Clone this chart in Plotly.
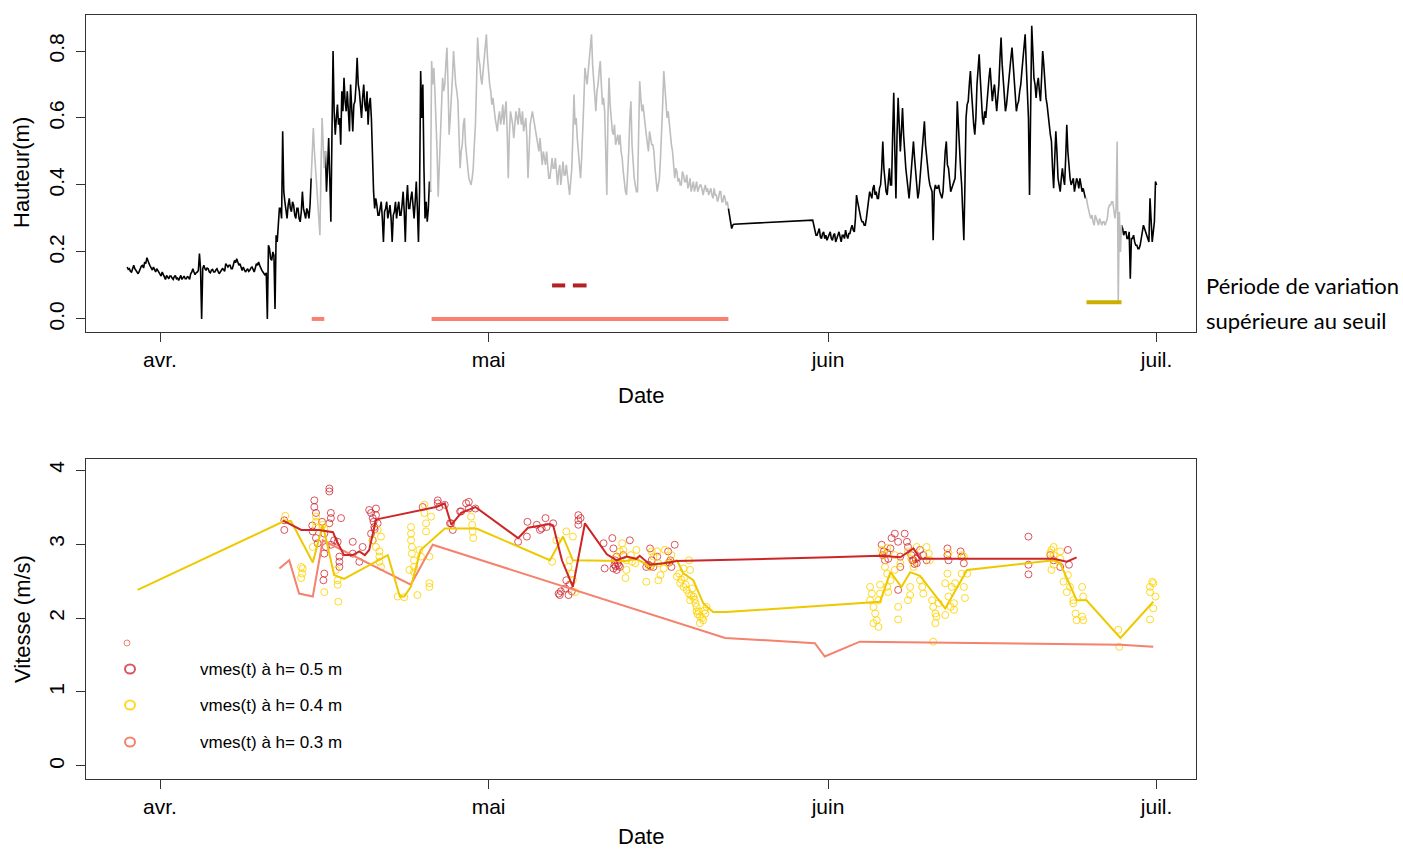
import numpy as np
import pandas as pd
import plotly.graph_objects as go

BASE = pd.Timestamp("2017-04-01")


def to_date(days):
    return BASE + pd.to_timedelta(np.asarray(days, dtype=float), unit="D")


# ---------------- water height (m), sampled every 0.1 day ----------------
SEG_A_START = -3.0   # days from 1 April
SEG_B_START = 59.6
STEP = 0.1

height_a = [
    0.155, 0.148, 0.150, 0.142, 0.140, 0.152, 0.160, 0.150, 0.145, 0.138,
    0.135, 0.142, 0.150, 0.158, 0.160, 0.152, 0.170, 0.165, 0.183, 0.172,
    0.165, 0.158, 0.150, 0.146, 0.155, 0.148, 0.140, 0.150, 0.145, 0.138,
    0.135, 0.128, 0.140, 0.132, 0.125, 0.118, 0.130, 0.124, 0.120, 0.128,
    0.128, 0.122, 0.118, 0.126, 0.130, 0.120, 0.122, 0.115, 0.126, 0.130,
    0.118, 0.124, 0.128, 0.120, 0.120, 0.126, 0.125, 0.118, 0.135, 0.140,
    0.150, 0.140, 0.132, 0.138, 0.140, 0.145, 0.195, 0.150, 0.000, 0.150,
    0.160, 0.150, 0.145, 0.152, 0.150, 0.140, 0.138, 0.146, 0.148, 0.140,
    0.140, 0.146, 0.150, 0.142, 0.135, 0.140, 0.145, 0.150, 0.148, 0.142,
    0.165, 0.158, 0.155, 0.160, 0.160, 0.150, 0.150, 0.162, 0.175, 0.168,
    0.180, 0.170, 0.160, 0.165, 0.150, 0.145, 0.155, 0.148, 0.140, 0.145,
    0.150, 0.142, 0.145, 0.152, 0.155, 0.148, 0.140, 0.152, 0.165, 0.160,
    0.170, 0.160, 0.150, 0.145, 0.140, 0.135, 0.130, 0.138, 0.000, 0.220,
    0.210, 0.180, 0.175, 0.200, 0.190, 0.030, 0.250, 0.230, 0.280, 0.330,
    0.330, 0.300, 0.560, 0.380, 0.350, 0.320, 0.300, 0.340, 0.360, 0.330,
    0.320, 0.350, 0.340, 0.310, 0.300, 0.330, 0.330, 0.300, 0.290, 0.320,
    0.380, 0.330, 0.310, 0.300, 0.330, 0.320, 0.300, 0.340, 0.420, 0.520,
    0.570, 0.500, 0.450, 0.400, 0.350, 0.300, 0.250, 0.450, 0.600, 0.520,
    0.450, 0.500, 0.380, 0.450, 0.540, 0.420, 0.290, 0.550, 0.800, 0.620,
    0.550, 0.600, 0.640, 0.580, 0.600, 0.520, 0.680, 0.620, 0.720, 0.650,
    0.620, 0.680, 0.600, 0.560, 0.700, 0.600, 0.560, 0.640, 0.650, 0.700,
    0.780, 0.700, 0.680, 0.640, 0.600, 0.660, 0.700, 0.640, 0.620, 0.680,
    0.580, 0.640, 0.660, 0.600, 0.450, 0.380, 0.330, 0.360, 0.340, 0.310,
    0.310, 0.340, 0.350, 0.300, 0.230, 0.320, 0.330, 0.350, 0.300, 0.320,
    0.340, 0.300, 0.230, 0.310, 0.320, 0.350, 0.300, 0.330, 0.350, 0.310,
    0.310, 0.340, 0.380, 0.320, 0.230, 0.350, 0.400, 0.330, 0.330, 0.360,
    0.380, 0.340, 0.300, 0.350, 0.410, 0.330, 0.230, 0.380, 0.740, 0.600,
    0.700, 0.450, 0.300, 0.350, 0.290, 0.330, 0.410, 0.380, 0.770, 0.700,
    0.750, 0.680, 0.600, 0.500, 0.365, 0.450, 0.550, 0.650, 0.720, 0.680,
    0.700, 0.760, 0.810, 0.700, 0.550, 0.600, 0.650, 0.720, 0.800, 0.740,
    0.700, 0.680, 0.650, 0.550, 0.450, 0.500, 0.520, 0.580, 0.600, 0.520,
    0.480, 0.450, 0.420, 0.410, 0.400, 0.420, 0.450, 0.520, 0.580, 0.700,
    0.840, 0.780, 0.760, 0.720, 0.700, 0.740, 0.780, 0.820, 0.850, 0.780,
    0.720, 0.700, 0.680, 0.640, 0.660, 0.620, 0.600, 0.580, 0.560, 0.600,
    0.620, 0.580, 0.600, 0.640, 0.580, 0.620, 0.650, 0.560, 0.420, 0.550,
    0.620, 0.600, 0.580, 0.540, 0.570, 0.620, 0.600, 0.580, 0.630, 0.600,
    0.580, 0.620, 0.560, 0.580, 0.600, 0.540, 0.420, 0.500, 0.580, 0.600,
    0.620, 0.600, 0.580, 0.560, 0.540, 0.520, 0.500, 0.540, 0.480, 0.460,
    0.500, 0.480, 0.460, 0.500, 0.450, 0.420, 0.420, 0.460, 0.480, 0.450,
    0.450, 0.480, 0.420, 0.400, 0.440, 0.460, 0.400, 0.440, 0.470, 0.430,
    0.430, 0.460, 0.420, 0.400, 0.370, 0.420, 0.450, 0.550, 0.670, 0.580,
    0.600, 0.540, 0.500, 0.460, 0.420, 0.480, 0.550, 0.650, 0.750, 0.720,
    0.700, 0.740, 0.780, 0.820, 0.850, 0.760, 0.700, 0.660, 0.620, 0.680,
    0.700, 0.740, 0.770, 0.700, 0.640, 0.660, 0.620, 0.500, 0.370, 0.600,
    0.720, 0.640, 0.600, 0.560, 0.550, 0.580, 0.520, 0.540, 0.550, 0.520,
    0.550, 0.500, 0.480, 0.440, 0.400, 0.380, 0.370, 0.420, 0.500, 0.600,
    0.650, 0.520, 0.450, 0.420, 0.400, 0.380, 0.380, 0.550, 0.710, 0.660,
    0.620, 0.640, 0.600, 0.580, 0.550, 0.520, 0.500, 0.560, 0.540, 0.520,
    0.520, 0.500, 0.450, 0.420, 0.380, 0.400, 0.420, 0.480, 0.550, 0.640,
    0.740, 0.700, 0.650, 0.600, 0.620, 0.580, 0.550, 0.520, 0.500, 0.460,
    0.420, 0.450, 0.440, 0.410, 0.420, 0.400, 0.400, 0.440, 0.430, 0.410,
    0.410, 0.430, 0.390, 0.400, 0.420, 0.380, 0.400, 0.410, 0.380, 0.400,
    0.410, 0.380, 0.390, 0.400, 0.400, 0.380, 0.370, 0.390, 0.400, 0.380,
    0.390, 0.370, 0.380, 0.390, 0.370, 0.360, 0.390, 0.370, 0.370, 0.350,
    0.360, 0.380, 0.380, 0.350, 0.350, 0.370, 0.360, 0.340, 0.350, 0.330,
    0.310, 0.290, 0.270, 0.280, 0.283,
]

height_b = [
    0.295, 0.280, 0.260, 0.250,
    0.250, 0.265, 0.270, 0.245, 0.240, 0.255, 0.260, 0.240, 0.250, 0.235,
    0.245, 0.255, 0.260, 0.240, 0.235, 0.250, 0.255, 0.230, 0.240, 0.250,
    0.260, 0.245, 0.230, 0.250, 0.250, 0.240, 0.265, 0.250, 0.240, 0.255,
    0.255, 0.270, 0.280, 0.265, 0.260, 0.300, 0.370, 0.350, 0.330, 0.310,
    0.300, 0.290, 0.290, 0.280, 0.280, 0.300, 0.330, 0.360, 0.380, 0.370,
    0.360, 0.390, 0.400, 0.370, 0.380, 0.360, 0.360, 0.390, 0.400, 0.450,
    0.530, 0.450, 0.400, 0.380, 0.370, 0.420, 0.450, 0.400, 0.400, 0.550,
    0.675, 0.500, 0.360, 0.550, 0.660, 0.580, 0.500, 0.560, 0.630, 0.550,
    0.480, 0.450, 0.420, 0.380, 0.360, 0.400, 0.450, 0.500, 0.530, 0.480,
    0.450, 0.400, 0.360, 0.380, 0.420, 0.460, 0.500, 0.560, 0.590, 0.520,
    0.480, 0.450, 0.420, 0.400, 0.390, 0.380, 0.235, 0.380, 0.400, 0.390,
    0.390, 0.400, 0.380, 0.370, 0.360, 0.380, 0.450, 0.500, 0.530, 0.460,
    0.450, 0.420, 0.380, 0.390, 0.400, 0.410, 0.420, 0.500, 0.650, 0.580,
    0.500, 0.450, 0.400, 0.300, 0.235, 0.400, 0.600, 0.640, 0.650, 0.700,
    0.740, 0.680, 0.620, 0.580, 0.550, 0.600, 0.700, 0.760, 0.790, 0.720,
    0.650, 0.600, 0.580, 0.620, 0.600, 0.650, 0.680, 0.720, 0.750, 0.700,
    0.650, 0.680, 0.700, 0.660, 0.620, 0.660, 0.700, 0.780, 0.840, 0.760,
    0.700, 0.660, 0.620, 0.640, 0.680, 0.720, 0.750, 0.780, 0.810, 0.760,
    0.700, 0.660, 0.620, 0.640, 0.650, 0.680, 0.700, 0.740, 0.780, 0.820,
    0.850, 0.760, 0.700, 0.600, 0.370, 0.650, 0.875, 0.800, 0.720, 0.700,
    0.660, 0.700, 0.720, 0.680, 0.650, 0.720, 0.800, 0.760, 0.700, 0.660,
    0.640, 0.600, 0.580, 0.550, 0.530, 0.450, 0.390, 0.480, 0.560, 0.500,
    0.420, 0.400, 0.380, 0.420, 0.450, 0.420, 0.400, 0.480, 0.580, 0.500,
    0.450, 0.420, 0.400, 0.410, 0.420, 0.380, 0.400, 0.420, 0.410, 0.390,
    0.420, 0.400, 0.380, 0.390, 0.370, 0.360, 0.360, 0.340, 0.320, 0.310,
    0.300, 0.310, 0.290, 0.280, 0.310, 0.300, 0.290, 0.280, 0.300, 0.290,
    0.280, 0.290, 0.290, 0.280, 0.290, 0.300, 0.330, 0.340, 0.340, 0.350,
    0.350, 0.320, 0.300, 0.330, 0.530, 0.050, 0.320, 0.200, 0.280, 0.270,
    0.250, 0.260, 0.260, 0.240, 0.240, 0.260, 0.120, 0.240, 0.240, 0.250,
    0.230, 0.220, 0.220, 0.210, 0.210, 0.220, 0.240, 0.260, 0.280, 0.270,
    0.260, 0.250, 0.240, 0.230, 0.360, 0.300, 0.230, 0.260, 0.290, 0.410,
    0.400,
]

# periods where the variation exceeds the threshold (start day, end day)
salmon_periods = [(13.85, 15.0), (24.8, 51.9)]
red_periods = [(35.8, 37.0), (37.7, 38.95)]
gold_periods = [(84.6, 87.8)]
SALMON_LEVEL, RED_LEVEL, GOLD_LEVEL = 0.0, 0.1, 0.05

# ---------------- measured velocities (m/s) ----------------
vel_05_days = [
    11.35, 11.35, 14.09, 14.09, 14.24, 13.94, 14.24, 14.39, 15.46, 15.46, 15.6, 15.6,
    15.46, 15.0, 15.15, 15.0, 15.6, 15.9, 16.53, 16.22, 16.38, 16.38, 16.38, 15.0,
    14.92, 17.6, 18.5, 17.6, 18.2, 19.1, 19.27, 19.42, 19.72, 19.72, 19.87, 19.27,
    19.42, 19.57, 23.98, 25.36, 25.36, 26.58, 26.73, 27.5, 27.95,
    26.48, 27.4, 28.2, 28.2, 28.8, 32.7, 33.5, 33.55, 34.4, 34.85, 35.2, 35.3, 35.9,
    34.7, 36.4, 36.5, 37.3, 37.4, 37.1, 37.6, 38.2, 38.2, 38.2, 38.4, 40.5, 41.3,
    41.4, 41.55, 41.7, 41.4, 42.0, 40.6, 42.9, 41.7, 42.3, 44.4, 44.75, 44.9, 45.05,
    45.4, 46.4, 46.6, 46.7, 47.0,
    65.9, 66.1, 66.2, 66.7, 66.8, 67.1, 67.4, 67.6, 68.0, 68.2, 68.3, 68.6, 68.8,
    69.1, 69.4, 69.7, 70.0, 67.4, 67.6, 71.9, 71.9, 72.0, 73.1, 73.2, 73.4, 79.3,
    79.3, 79.3, 81.3, 81.6, 82.2, 82.9, 83.0,
    41.5, 41.6, 41.8, 41.9, 44.6, 44.8, 46.5, 66.0, 66.4, 66.5, 68.7, 68.9, 69.0,
    69.2, 14.8, 13.9, 19.5, 19.6, 36.6, 37.0, 25.5, 26.0,
]
vel_05_vals = [
    3.32, 3.19, 3.59, 3.50, 3.42, 3.17, 3.08, 3.01, 3.75, 3.71, 3.42, 3.35,
    3.28, 3.14, 2.96, 2.87, 2.99, 3.05, 3.35, 3.03, 2.83, 2.76, 2.69, 2.60,
    2.51, 3.03, 2.96, 2.87, 2.76, 3.46, 3.42, 3.35, 3.48, 3.39, 3.28, 3.14,
    3.05, 3.23, 3.50, 3.59, 3.55, 3.28, 3.19, 3.44, 3.55,
    3.28, 3.44, 3.57, 3.48, 3.48, 3.03, 3.10, 3.30, 3.26, 3.21, 3.35, 3.23, 3.28,
    3.19, 2.33, 2.31, 2.31, 2.45, 2.51, 2.36, 3.39, 3.32, 3.26, 3.35, 3.01, 3.08,
    2.94, 2.78, 2.65, 2.67, 2.69, 2.67, 3.05, 2.83, 2.85, 2.69, 2.94, 2.78, 2.69,
    2.83, 2.90, 2.78, 2.69, 2.99,
    2.99, 2.90, 2.78, 2.94, 3.08, 3.14, 3.03, 2.83, 3.14, 3.03, 2.96, 2.85, 2.78,
    2.74, 2.92, 2.85, 2.78, 2.38, 2.69, 2.94, 2.85, 2.78, 2.90, 2.83, 2.74, 3.10,
    2.72, 2.59, 2.85, 2.78, 2.69, 2.92, 2.72,
    2.72, 2.70, 2.74, 2.71, 2.72, 2.70, 2.75, 2.85, 2.88, 2.80, 2.78, 2.73, 2.80,
    2.82, 3.30, 3.25, 3.30, 3.20, 2.36, 2.40, 3.50, 3.53,
]

vel_04_days = [
    11.44, 14.24, 14.24, 14.24, 12.88, 13.03, 12.97, 12.88, 13.94, 14.86, 15.0, 15.0,
    16.07, 16.22, 16.22, 16.28, 19.42, 19.72, 20.03, 20.03, 20.18, 20.03, 19.87, 20.18,
    21.7, 22.3, 23.5, 22.92, 22.92, 22.92, 23.0, 23.0, 23.2, 23.2, 23.2, 24.14, 24.14,
    24.29, 24.29, 24.75, 24.6, 24.6, 24.6, 23.68, 23.83, 22.77,
    28.4, 28.5, 28.55, 28.6, 35.8, 36.2, 37.1, 37.7, 37.4, 37.3, 37.6, 37.7, 37.9,
    42.2, 42.3, 42.6, 42.5, 43.1, 43.5, 43.4, 42.6, 44.4, 44.75, 45.05, 45.4, 45.5,
    45.7, 45.5, 46.0, 46.1, 46.4, 47.2, 47.5, 47.8, 48.1, 48.3, 48.4, 48.7, 48.9,
    49.0, 49.2, 49.3, 49.6, 49.8, 49.9, 49.3, 49.0, 48.3, 48.4, 47.8,
    47.4, 47.6, 48.0, 48.5, 48.8, 49.1, 49.5, 49.7, 48.6, 47.9,
    64.84, 65.0, 64.84, 65.15, 65.3, 65.45, 65.6, 65.15, 65.75, 65.6, 65.75, 66.2,
    66.4, 66.7, 66.4, 66.5, 67.1, 67.6, 67.4, 67.4, 68.3, 68.5, 68.5, 68.8, 69.4,
    69.6, 69.7, 70.0, 70.2, 70.3, 70.5, 70.6, 70.8, 70.8, 70.6, 70.9, 71.1, 71.7,
    71.7, 71.9, 72.0, 72.2, 72.3, 72.5, 72.5, 72.6, 73.2, 73.4, 73.5, 73.7, 73.4,
    81.6, 81.4, 82.2, 81.4, 81.6, 82.5, 82.8, 83.1, 83.4, 83.6, 83.7, 84.2, 84.3,
    84.3, 83.4, 82.9, 84.2,
    87.5, 87.6, 90.4, 90.4, 90.7, 90.9, 90.7, 90.4, 90.6,
    65.9, 66.1, 66.4, 67.1, 68.3, 68.6, 69.1, 72.0, 73.2, 81.3, 82.2, 81.6, 41.6,
    42.0, 44.9, 46.7, 43.0,
]
vel_04_vals = [
    3.38, 3.37, 3.30, 3.23, 2.69, 2.67, 2.60, 2.54, 2.96, 3.26, 3.21, 2.35,
    2.65, 2.45, 2.51, 2.22, 3.05, 2.96, 2.90, 2.83, 2.69, 2.76, 3.19, 3.10,
    2.29, 2.28, 2.31, 3.23, 3.14, 3.05, 2.96, 2.87, 2.78, 2.69, 2.62, 3.53, 3.42,
    3.28, 3.17, 3.37, 2.83, 2.47, 2.42, 2.92, 2.83, 2.65,
    3.37, 3.26, 3.17, 3.08, 2.76, 3.05, 3.17, 3.10, 2.78, 2.69, 2.60, 2.51, 2.35,
    3.01, 2.92, 2.65, 2.54, 2.76, 2.92, 2.74, 2.78, 2.49, 2.69, 2.83, 2.90, 2.74,
    2.58, 2.51, 2.67, 2.92, 2.74, 2.56, 2.47, 2.42, 2.38, 2.33, 2.24, 2.29, 2.20,
    2.15, 2.09, 2.02, 1.97, 2.06, 2.15, 1.93, 2.09, 2.78, 2.65, 2.67,
    2.60, 2.52, 2.45, 2.30, 2.25, 2.05, 2.00, 2.10, 2.40, 2.55,
    2.42, 2.33, 2.24, 2.15, 2.06, 1.97, 1.88, 1.93, 2.33, 2.24, 2.45, 2.69,
    2.60, 2.51, 2.42, 2.35, 2.65, 2.74, 2.15, 1.98, 2.24, 2.42, 2.31, 2.69, 2.51,
    2.42, 2.33, 2.96, 2.87, 2.78, 2.24, 2.15, 2.06, 1.93, 1.68, 2.02, 2.20, 2.04,
    2.47, 2.60, 2.29, 2.15, 2.42, 2.20, 2.11, 2.47, 2.60, 2.42, 2.27, 2.60, 2.83,
    2.96, 2.92, 2.90, 2.65, 2.72, 2.49, 2.35, 2.42, 2.20, 2.06, 1.97, 2.42, 2.29,
    1.97, 2.24, 2.58, 2.02,
    1.84, 1.61, 2.42, 2.35, 2.47, 2.29, 2.13, 1.98, 2.49,
    2.92, 2.85, 2.95, 2.85, 2.90, 2.80, 2.96, 2.88, 2.85, 2.88, 2.80, 2.85, 2.82,
    2.90, 2.90, 2.85, 2.85,
]

# smoothed velocity curves for each height
curve_05_days = [11.2, 12.3, 12.9, 14.5, 15.8, 16.1, 16.8, 17.6, 18.2, 18.7, 19.1, 19.7,
                 20.0, 25.2, 26.0, 26.6, 27.5, 28.8, 32.7, 33.6, 34.4, 35.6, 35.9, 36.7,
                 37.7, 38.8, 40.8, 41.7, 42.6, 43.5, 43.8, 44.75, 46.0, 47.2, 61.2, 65.75,
                 67.6, 68.8, 69.4, 72.8, 81.6, 82.8, 83.7]
curve_05_vals = [3.32, 3.23, 3.19, 3.19, 3.16, 3.05, 2.85, 2.85, 2.90, 2.85, 2.92, 3.32,
                 3.34, 3.50, 3.55, 3.26, 3.42, 3.50, 3.08, 3.22, 3.24, 3.27, 3.25, 2.78,
                 2.42, 3.28, 2.86, 2.78, 2.83, 2.80, 2.84, 2.72, 2.74, 2.77, 2.82, 2.84,
                 2.82, 2.94, 2.80, 2.80, 2.80, 2.76, 2.82]

curve_04_days = [-2.04, 11.2, 11.96, 13.95, 14.86, 15.9, 16.8, 20.8, 21.9, 22.3, 22.9, 23.8,
                 26.0, 28.9, 35.6, 36.8, 37.7, 42.5, 43.5, 44.7, 45.9, 47.2, 47.8, 48.7,
                 49.6, 50.5, 51.7, 61.2, 65.75, 66.7, 67.7, 68.5, 69.4, 71.7, 73.7, 81.6,
                 82.2, 83.7, 84.6, 87.7, 90.7]
curve_04_vals = [2.38, 3.30, 3.31, 2.75, 3.26, 2.58, 2.53, 2.85, 2.29, 2.29, 2.42, 2.92,
                 3.21, 3.21, 2.78, 3.10, 2.78, 2.77, 2.80, 2.70, 2.74, 2.78, 2.60, 2.51,
                 2.20, 2.08, 2.08, 2.18, 2.22, 2.62, 2.42, 2.62, 2.57, 2.13, 2.65, 2.78,
                 2.74, 2.24, 2.24, 1.73, 2.22]

curve_03_days = [10.9, 11.8, 12.7, 13.95, 14.86, 22.9, 24.9, 51.6, 59.8, 60.7, 63.9, 75.2,
                 87.7, 90.7]
curve_03_vals = [2.67, 2.78, 2.33, 2.29, 3.05, 2.45, 2.99, 1.73, 1.66, 1.48, 1.68, 1.66,
                 1.64, 1.61]

legend_labels = ["vmes(t) à h= 0.5 m", "vmes(t) à h= 0.4 m", "vmes(t) à h= 0.3 m"]
month_ticks = ["2017-04-01", "2017-05-01", "2017-06-01", "2017-07-01"]
month_labels = ["avr.", "mai", "juin", "juil."]

# ---------------- styling ----------------
W, H = 1403, 850
FONT = "Liberation Sans, Arial, sans-serif"
C_RED_PT = "rgba(205,30,40,0.75)"
C_GOLD_PT = "rgba(255,210,0,0.85)"
C_RED_LN = "#CD2626"
C_GOLD_LN = "#EEC900"
C_SALMON_LN = "#F4826C"
C_SALMON_BAR = "#FA8072"
C_RED_BAR = "#B22222"
C_GOLD_BAR = "#CDAD00"
FRAME = "#333333"
HEIGHT_LINE_W = 1.6


def px_x(p):
    return p / W


def px_y(p):
    return (H - p) / H


# ---------------- build height series ----------------
h_a = np.array(height_a)
h_b = np.array(height_b)
d_a = SEG_A_START + STEP * np.arange(len(h_a))
d_b = SEG_B_START + STEP * np.arange(len(h_b))
days = np.concatenate([d_a, d_b])
heights = np.concatenate([h_a, h_b])

grey_periods = salmon_periods + gold_periods
in_grey = np.zeros(len(days), dtype=bool)
for s, e in grey_periods:
    in_grey |= (days >= s) & (days <= e)
# grey overlay also takes the neighbouring samples so both colours join up
grey_join = in_grey.copy()
grey_join[1:] |= in_grey[:-1]
grey_join[:-1] |= in_grey[1:]

black_y = [float(v) if not g else None for v, g in zip(heights, in_grey)]
grey_y = [float(v) if g else None for v, g in zip(heights, grey_join)]
dates = to_date(days)


def period_segments(periods, level):
    xs, ys = [], []
    for s, e in periods:
        xs += [to_date([s])[0], to_date([e])[0], None]
        ys += [level, level, None]
    return xs, ys


fig = go.Figure()

fig.add_trace(go.Scatter(x=dates, y=black_y, mode="lines",
                         line=dict(color="black", width=HEIGHT_LINE_W), connectgaps=False,
                         xaxis="x", yaxis="y"))
fig.add_trace(go.Scatter(x=dates, y=grey_y, mode="lines",
                         line=dict(color="#BEBEBE", width=HEIGHT_LINE_W), connectgaps=False,
                         xaxis="x", yaxis="y"))
for periods, level, col in [(salmon_periods, SALMON_LEVEL, C_SALMON_BAR),
                            (red_periods, RED_LEVEL, C_RED_BAR),
                            (gold_periods, GOLD_LEVEL, C_GOLD_BAR)]:
    bx, by = period_segments(periods, level)
    fig.add_trace(go.Scatter(x=bx, y=by, mode="lines",
                             line=dict(color=col, width=4),
                             xaxis="x", yaxis="y"))

# ---------------- velocity panel ----------------
fig.add_trace(go.Scatter(x=to_date(vel_05_days), y=vel_05_vals, mode="markers",
                         marker=dict(symbol="circle-open", size=7,
                                     color=C_RED_PT, line=dict(width=1)),
                         xaxis="x2", yaxis="y2"))
fig.add_trace(go.Scatter(x=to_date(vel_04_days), y=vel_04_vals, mode="markers",
                         marker=dict(symbol="circle-open", size=7,
                                     color=C_GOLD_PT, line=dict(width=1)),
                         xaxis="x2", yaxis="y2"))
for cd, cv, col in [(curve_03_days, curve_03_vals, C_SALMON_LN),
                    (curve_04_days, curve_04_vals, C_GOLD_LN),
                    (curve_05_days, curve_05_vals, C_RED_LN)]:
    fig.add_trace(go.Scatter(x=to_date(cd), y=cv, mode="lines",
                             line=dict(color=col, width=2),
                             xaxis="x2", yaxis="y2"))

x_range = [to_date([-6.76])[0], to_date([94.6])[0]]
x_dom = [px_x(86), px_x(1196)]

axis_common = dict(showgrid=False, zeroline=False, showline=True, mirror=True,
                   linecolor=FRAME, linewidth=1, ticks="outside", ticklen=9,
                   tickcolor=FRAME, tickfont=dict(family=FONT, size=21, color="black"))

fig.update_layout(
    width=W, height=H,
    margin=dict(l=0, r=0, t=0, b=0),
    paper_bgcolor="white", plot_bgcolor="white",
    showlegend=False,
    xaxis=dict(domain=x_dom, range=x_range, anchor="y", type="date",
               tickvals=month_ticks, ticktext=month_labels, **axis_common),
    yaxis=dict(domain=[px_y(332), px_y(15)], range=[-0.039, 0.9075], anchor="x",
               tickvals=[0, 0.2, 0.4, 0.6, 0.8], ticktext=["0.0", "0.2", "0.4", "0.6", "0.8"],
               tickangle=-90, ticklabelstandoff=4, **axis_common),
    xaxis2=dict(domain=x_dom, range=x_range, anchor="y2", type="date",
                tickvals=month_ticks, ticktext=month_labels, **axis_common),
    yaxis2=dict(domain=[px_y(779), px_y(459)], range=[-0.176, 4.149], anchor="x2",
                tickvals=[0, 1, 2, 3, 4], tickangle=-90, ticklabelstandoff=4,
                **axis_common),
)

annotations = [
    dict(text="Hauteur(m)", x=px_x(22), y=px_y(173), textangle=-90),
    dict(text="Vitesse (m/s)", x=px_x(22), y=px_y(619), textangle=-90),
    dict(text="Date", x=px_x(641), y=px_y(395)),
    dict(text="Date", x=px_x(641), y=px_y(836)),
]
anns = []
for a in annotations:
    anns.append(dict(xref="paper", yref="paper", showarrow=False,
                     xanchor="center", yanchor="middle",
                     font=dict(family=FONT, size=22, color="black"), **a))

for txt, yp in [("Période de variation", 286), ("supérieure au seuil", 320)]:
    anns.append(dict(xref="paper", yref="paper", showarrow=False, text=txt,
                     x=px_x(1204), y=px_y(yp), xanchor="left", yanchor="middle",
                     font=dict(family="Lato, Carlito, sans-serif", size=22, color="black")))

# legend drawn inside the velocity panel
legend_cols = [C_RED_PT, C_GOLD_PT, C_SALMON_LN]
legend_rows = [669, 705, 742]
shapes = []
for lab, col, yp in zip(legend_labels, legend_cols, legend_rows):
    shapes.append(dict(type="circle", xref="paper", yref="paper",
                       xsizemode="pixel", ysizemode="pixel",
                       xanchor=px_x(130), yanchor=px_y(yp),
                       x0=-5, x1=5, y0=-4.5, y1=4.5,
                       line=dict(color=col, width=2)))
    anns.append(dict(xref="paper", yref="paper", showarrow=False, text=lab,
                     x=px_x(198), y=px_y(yp), xanchor="left", yanchor="middle",
                     font=dict(family=FONT, size=17, color="black")))
shapes.append(dict(type="circle", xref="paper", yref="paper",
                   xsizemode="pixel", ysizemode="pixel",
                   xanchor=px_x(127), yanchor=px_y(643),
                   x0=-3, x1=3, y0=-3, y1=3,
                   line=dict(color=C_SALMON_LN, width=1)))

fig.update_layout(annotations=anns, shapes=shapes)

fig.write_html("out.html")
